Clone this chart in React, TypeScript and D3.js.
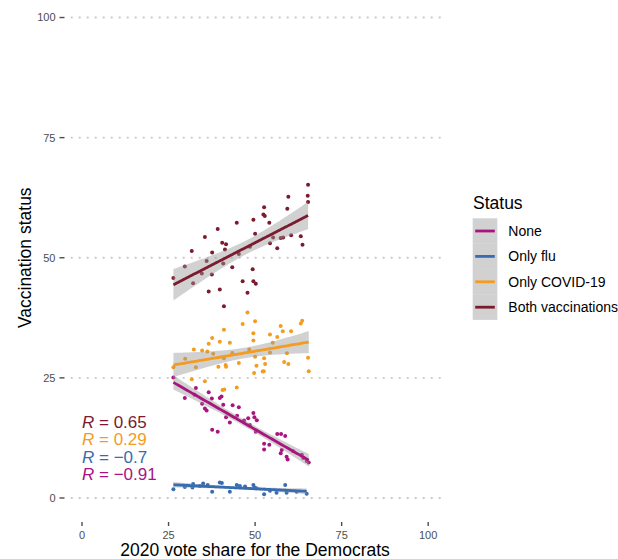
import React from "react";
import * as d3 from "d3";

// ---------- data ----------
const statusNames = ["None", "Only flu", "Only COVID-19", "Both vaccinations"];
const statusColors = ["#A8157F", "#386CB0", "#F39C1F", "#7B1B2E"];

const noneX = [26.4, 29.7, 32.9, 32.5, 36.6, 37.5, 39.8, 40.3, 34.7, 35.5, 36.0, 40.8, 43.5, 45.3, 41.6, 42.7, 44.8, 46.8, 48.0, 49.5, 49.8, 50.5, 37.6, 39.2, 48.5, 50.2, 56.4, 57.5, 58.7, 52.6, 54.1, 52.6, 57.7, 57.4, 59.1, 59.4, 61.0, 63.5, 63.9, 64.9, 65.5];
const noneY = [25.1, 20.8, 22.9, 21.5, 22.0, 20.7, 20.8, 21.1, 19.6, 18.6, 18.2, 19.4, 19.3, 18.9, 16.8, 15.7, 17.1, 16.1, 16.6, 17.7, 16.8, 16.2, 14.2, 13.8, 15.2, 13.8, 13.3, 13.3, 12.9, 11.3, 11.1, 10.1, 10.0, 9.3, 8.6, 8.0, 9.7, 9.0, 8.3, 7.7, 7.4];

const fluX = [26.4, 29.7, 31.9, 32.1, 35.0, 36.3, 37.6, 39.8, 40.4, 42.7, 44.7, 45.6, 47.1, 49.5, 49.8, 50.4, 52.6, 54.3, 56.2, 58.7, 59.1, 62.0, 64.9, 34.1];
const fluY = [1.8, 2.3, 2.2, 2.9, 3.0, 2.7, 1.3, 3.2, 3.1, 1.3, 2.7, 2.5, 2.4, 2.7, 2.2, 2.0, 0.8, 1.5, 1.1, 2.7, 1.1, 1.3, 0.9, 2.5];

const covidX = [47.8, 46.4, 50.0, 63.6, 63.2, 57.4, 41.0, 49.5, 54.3, 58.0, 60.4, 56.4, 37.6, 36.6, 39.8, 42.7, 49.5, 55.1, 32.3, 34.7, 36.2, 37.9, 43.4, 48.3, 54.3, 59.2, 50.0, 52.6, 29.8, 41.0, 65.3, 58.4, 59.6, 52.9, 45.3, 41.5, 41.6, 50.4, 26.4, 32.9, 39.4, 52.5, 49.7, 65.5, 31.7, 35.5, 44.7, 40.6, 41.1, 52.2];
const covidY = [38.6, 36.2, 36.8, 36.9, 36.3, 35.8, 35.0, 34.3, 34.0, 34.7, 34.7, 33.5, 33.3, 32.1, 32.5, 32.3, 32.8, 32.3, 30.9, 30.7, 30.5, 30.0, 30.2, 30.9, 30.3, 30.1, 29.4, 29.1, 29.0, 29.1, 29.2, 28.3, 27.9, 27.9, 28.1, 27.7, 27.3, 27.5, 27.2, 27.2, 27.3, 26.4, 26.0, 26.4, 24.7, 24.3, 23.0, 22.5, 22.6, 26.3];

const bothX = [65.3, 65.2, 65.3, 59.6, 59.3, 52.6, 52.4, 52.8, 49.5, 54.1, 44.7, 39.2, 50.0, 35.5, 40.5, 41.6, 55.2, 57.4, 58.1, 60.4, 63.2, 63.7, 56.4, 54.3, 41.3, 31.7, 37.6, 45.3, 48.5, 36.0, 40.8, 29.7, 43.4, 49.3, 34.6, 37.5, 26.4, 32.1, 46.4, 49.5, 50.2, 36.6, 39.8, 47.8, 41.0];
const bothY = [65.2, 62.9, 61.6, 62.7, 60.2, 60.5, 59.0, 58.7, 57.9, 57.3, 57.3, 56.0, 55.0, 54.3, 53.1, 52.8, 54.2, 54.1, 54.2, 54.7, 54.5, 52.7, 52.0, 53.0, 51.7, 51.4, 51.1, 50.8, 52.3, 49.3, 48.8, 48.2, 48.0, 47.6, 46.7, 46.5, 45.8, 44.7, 45.1, 45.1, 44.6, 43.0, 43.4, 42.7, 39.9];

const xTicks = [0, 25, 50, 75, 100];
const yTicks = [0, 25, 50, 75, 100];

// correlation labels (top to bottom), group index into statusNames
const rValues = ["0.65", "0.29", "\u22120.7", "\u22120.91"];
const rGroups = [3, 2, 1, 0];
const rLabelY = [15.8, 12.2, 8.6, 5.0];

const groups = [
  { x: noneX, y: noneY },
  { x: fluX, y: fluY },
  { x: covidX, y: covidY },
  { x: bothX, y: bothY },
];

function fitLm(xs: number[], ys: number[]) {
  const n = xs.length;
  const mx = d3.mean(xs) as number;
  const my = d3.mean(ys) as number;
  let sxx = 0, sxy = 0;
  for (let i = 0; i < n; i++) {
    sxx += (xs[i] - mx) ** 2;
    sxy += (xs[i] - mx) * (ys[i] - my);
  }
  const b = sxy / sxx;
  const a = my - b * mx;
  let sse = 0;
  for (let i = 0; i < n; i++) sse += (ys[i] - a - b * xs[i]) ** 2;
  const s = Math.sqrt(sse / (n - 2));
  const df = n - 2;
  const t = 1.96 + 2.4 / df + 3 / (df * df);
  const [lo, hi] = d3.extent(xs) as [number, number];
  const pts = d3.range(0, 81).map((i) => {
    const xv = lo + ((hi - lo) * i) / 80;
    const fv = a + b * xv;
    const se = s * Math.sqrt(1 / n + (xv - mx) ** 2 / sxx);
    return { x: xv, y: fv, lo: fv - t * se, hi: fv + t * se };
  });
  return pts;
}

export default function App() {
  const W = 618, H = 559;
  const x = d3.scaleLinear().domain([-5, 105]).range([64.7, 445.5]);
  const y = d3.scaleLinear().domain([-5, 105]).range([522, -6.5]);
  const font = "'Liberation Sans', Arial, Helvetica, sans-serif";

  const fits = groups.map((g) => fitLm(g.x, g.y));
  const area = d3
    .area<{ x: number; lo: number; hi: number }>()
    .x((d) => x(d.x))
    .y0((d) => y(d.lo))
    .y1((d) => y(d.hi));
  const line = d3
    .line<{ x: number; y: number }>()
    .x((d) => x(d.x))
    .y((d) => y(d.y));

  const legX = 472.7, legY = 218.3, keyH = 25.4, keyW = 24.6;

  return (
    <svg width={W} height={H} style={{ position: "absolute", left: 0, top: 0, background: "#fff" }} fontFamily={font}>
      <rect width={W} height={H} fill="#fff" />
      {/* grid */}
      {yTicks.map((t) => (
        <line key={"g" + t} x1={x(-5)} x2={x(105)} y1={y(t)} y2={y(t)} stroke="#C9C9C9" strokeWidth={1.8} strokeDasharray="2 6" strokeDashoffset={2} />
      ))}
      {/* y axis ticks + labels */}
      {yTicks.map((t) => (
        <g key={"y" + t}>
          <line x1={59.5} x2={64.5} y1={y(t)} y2={y(t)} stroke="#4D4D4D" strokeWidth={1.4} />
          <text x={55.5} y={y(t)} dy="0.36em" textAnchor="end" fontSize={11} fill="#4D4D4D">{t}</text>
        </g>
      ))}
      {/* x axis ticks + labels */}
      {xTicks.map((t) => (
        <g key={"x" + t}>
          <line x1={x(t)} x2={x(t)} y1={522} y2={526} stroke="#4D4D4D" strokeWidth={1.4} />
          <text x={x(t)} y={535.5} dy="0.36em" textAnchor="middle" fontSize={11} fill="#4D4D4D">{t}</text>
        </g>
      ))}
      {/* points */}
      {groups.map((g, gi) => (
        <g key={"p" + gi}>
          {g.x.map((xv, i) => (
            <circle key={i} cx={x(xv)} cy={y(g.y[i])} r={2} fill={statusColors[gi]} />
          ))}
        </g>
      ))}
      {/* smooths */}
      {fits.map((f, gi) => (
        <g key={"s" + gi}>
          <path d={area(f) as string} fill="#999999" fillOpacity={0.45} />
          <path d={line(f) as string} fill="none" stroke={statusColors[gi]} strokeWidth={2.8} />
        </g>
      ))}
      {/* R labels */}
      {rValues.map((v, i) => (
        <text key={"r" + i} x={x(0)} y={y(rLabelY[i])} dy="0.36em" fontSize={17} fill={statusColors[rGroups[i]]}>
          <tspan fontStyle="italic">R</tspan>
          {" = " + v}
        </text>
      ))}
      {/* axis titles */}
      <text x={(x(-5) + x(105)) / 2} y={550} dy="0.36em" textAnchor="middle" fontSize={17.5} fill="#000">
        2020 vote share for the Democrats
      </text>
      <text transform={`translate(25,${(y(-5) + y(105)) / 2}) rotate(-90)`} dy="0.36em" textAnchor="middle" fontSize={17.5} fill="#000">
        Vaccination status
      </text>
      {/* legend */}
      <text x={473} y={203} dy="0.36em" fontSize={17.5} fill="#000">Status</text>
      {statusNames.map((name, i) => {
        const cy = legY + keyH * i + keyH / 2;
        return (
          <g key={"l" + i}>
            <rect x={legX} y={legY + keyH * i} width={keyW} height={keyH} fill="#999999" fillOpacity={0.45} />
            <line x1={legX + 2.5} x2={legX + keyW - 2.5} y1={cy} y2={cy} stroke={statusColors[i]} strokeWidth={2.8} />
            <text x={508.3} y={cy} dy="0.36em" fontSize={14} fill="#000">{name}</text>
          </g>
        );
      })}
    </svg>
  );
}
